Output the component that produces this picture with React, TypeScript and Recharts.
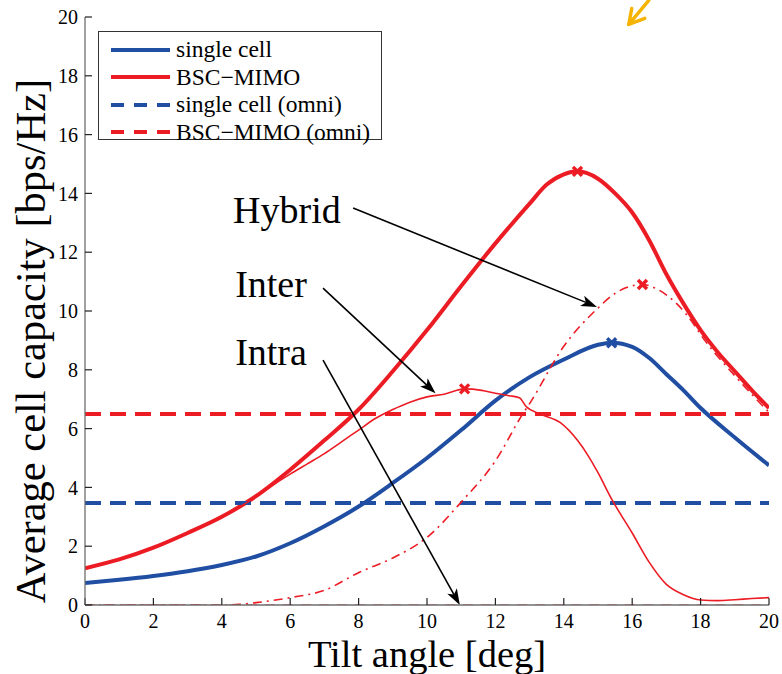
import React from 'react';
import {
  ComposedChart,
  Line,
  Scatter,
  XAxis,
  YAxis,
  Legend,
  ReferenceLine,
  ReferenceDot,
} from 'recharts';

const FONT = "'Liberation Serif', 'Times New Roman', Times, serif";
const BLUE = '#1f4ea3';
const RED = '#ec1c24';

// ---- data ----
const xTicks = [0, 2, 4, 6, 8, 10, 12, 14, 16, 18, 20];
const yTicks = [0, 2, 4, 6, 8, 10, 12, 14, 16, 18, 20];

const singleCellX = [0, 1, 2, 3, 4, 5, 6, 7, 8, 9, 10, 11, 12, 13, 14, 15, 15.4, 16, 16.5, 17, 17.5, 18, 19, 20];
const singleCellY = [0.75, 0.86, 0.99, 1.15, 1.36, 1.65, 2.1, 2.68, 3.35, 4.15, 5.0, 5.95, 6.95, 7.75, 8.35, 8.85, 8.92, 8.78, 8.4, 7.85, 7.3, 6.7, 5.7, 4.75];

const bscX = [0, 1, 2, 3, 4, 5, 6, 7, 8, 9, 10, 11, 12, 13, 13.5, 14, 14.4, 15, 15.5, 16, 16.5, 17, 17.5, 18, 18.5, 19, 19.5, 20];
const bscY = [1.25, 1.55, 1.95, 2.45, 3.0, 3.7, 4.6, 5.6, 6.65, 7.95, 9.35, 10.85, 12.3, 13.65, 14.3, 14.65, 14.75, 14.5, 14.0, 13.35, 12.4, 11.25, 10.25, 9.35, 8.6, 7.95, 7.3, 6.7];

const interX = [0, 1, 2, 3, 4, 5, 5.5, 6, 6.5, 7, 7.5, 8, 8.5, 9, 9.5, 10, 10.5, 11.1, 11.6, 12, 12.4, 12.7, 12.9, 13.3, 13.9, 14.4, 14.7, 15, 15.4, 16, 16.5, 17, 17.5, 18, 18.5, 19, 19.5, 20];
const interY = [1.25, 1.55, 1.95, 2.45, 3.0, 3.68, 4.08, 4.45, 4.8, 5.15, 5.55, 5.95, 6.35, 6.65, 6.9, 7.08, 7.17, 7.35, 7.3, 7.2, 7.12, 7.05, 6.75, 6.5, 6.2, 5.6, 5.1, 4.5, 3.6, 2.45, 1.45, 0.7, 0.35, 0.17, 0.15, 0.18, 0.22, 0.25];

const hybridX = [0, 2, 4, 4.5, 5, 6, 7, 8, 9, 10, 11, 12, 12.8, 13, 14, 15, 15.5, 16.3, 16.8, 17.3, 17.8, 18, 19, 20];
const hybridY = [0, 0, 0, 0.02, 0.08, 0.25, 0.5, 1.1, 1.6, 2.3, 3.5, 4.9, 6.5, 6.85, 8.8, 10.1, 10.6, 10.9, 10.7, 10.25, 9.55, 9.2, 7.8, 6.55];

const intraX = [0, 20];
const intraY = [0, 0];

const omniX = [0, 20];
const singleOmniY = [3.47, 3.47];
const bscOmniY = [6.5, 6.5];

const peakSingle = [{ x: 15.4, y: 8.92 }];
const peakBsc = [{ x: 14.4, y: 14.75 }];
const peakHybrid = [{ x: 16.3, y: 10.9 }];
const peakInter = [{ x: 11.1, y: 7.35 }];

const legendNames = ['single cell', 'BSC\u2212MIMO', 'single cell (omni)', 'BSC\u2212MIMO (omni)'];

const annotations = [
  { text: 'Hybrid', x: 4.33, y: 13.0 },
  { text: 'Inter', x: 4.39, y: 10.48 },
  { text: 'Intra', x: 4.39, y: 8.16 },
];
const arrows = [
  { from: { x: 7.84, y: 13.5 }, to: { x: 14.97, y: 10.14 } },
  { from: { x: 6.96, y: 10.78 }, to: { x: 10.25, y: 7.2 } },
  { from: { x: 6.96, y: 8.33 }, to: { x: 10.96, y: 0.0 } },
];

const toPts = (xs: number[], ys: number[]) => xs.map((x, i) => ({ x, y: ys[i] }));

const singleCellData = toPts(singleCellX, singleCellY);
const bscData = toPts(bscX, bscY);
const interData = toPts(interX, interY);
const hybridData = toPts(hybridX, hybridY);
const intraData = toPts(intraX, intraY);
const singleOmniData = toPts(omniX, singleOmniY);
const bscOmniData = toPts(omniX, bscOmniY);

// ---- render helpers ----
const XMark = (color: string) => (props: any) => {
  const { cx, cy } = props;
  const s = 4.5;
  return (
    <g>
      <line x1={cx - s} y1={cy - s} x2={cx + s} y2={cy + s} stroke={color} strokeWidth={3.4} />
      <line x1={cx - s} y1={cy + s} x2={cx + s} y2={cy - s} stroke={color} strokeWidth={3.4} />
    </g>
  );
};

const ArrowShape = (props: any) => {
  const { x1, y1, x2, y2 } = props;
  const ang = Math.atan2(y2 - y1, x2 - x1);
  const L = 16;
  const W = 5.5;
  const bx = x2 - L * Math.cos(ang);
  const by = y2 - L * Math.sin(ang);
  const px = -Math.sin(ang) * W;
  const py = Math.cos(ang) * W;
  const nx = x2 - (L - 4) * Math.cos(ang);
  const ny = y2 - (L - 4) * Math.sin(ang);
  return (
    <g>
      <line x1={x1} y1={y1} x2={nx} y2={ny} stroke="#000" strokeWidth={1.6} />
      <polygon
        points={`${x2},${y2} ${bx + px},${by + py} ${nx},${ny} ${bx - px},${by - py}`}
        fill="#000"
      />
    </g>
  );
};

const TextShape = (text: string) => (props: any) => (
  <text x={props.cx} y={props.cy} fontFamily={FONT} fontSize={38} fill="#000">
    {text}
  </text>
);

const YellowArrow = (props: any) => {
  const { cx, cy } = props;
  return (
    <g stroke="#f6b400" strokeWidth={3.4} strokeLinecap="round" fill="none">
      <line x1={cx} y1={cy} x2={cx + 20} y2={cy - 24} />
      <line x1={cx} y1={cy} x2={cx + 3} y2={cy - 16} />
      <line x1={cx} y1={cy} x2={cx + 16} y2={cy - 6} />
    </g>
  );
};

const renderLegend = (props: any) => {
  const payload = (props.payload || []) as any[];
  const items = legendNames
    .map((n) => payload.find((p) => p.value === n))
    .filter(Boolean) as any[];
  return (
    <div
      style={{
        border: '1px solid #333',
        background: '#fff',
        width: 284,
        height: 109,
        boxSizing: 'border-box',
        paddingTop: 4,
        fontFamily: FONT,
        fontSize: 23.5,
        color: '#000',
        lineHeight: 1,
      }}
    >
      {items.map((it, i) => (
        <div key={i} style={{ display: 'flex', alignItems: 'center', height: 27.5 }}>
          <svg width={77} height={10} style={{ flex: 'none' }}>
            <line
              x1={12}
              x2={71}
              y1={5}
              y2={5}
              stroke={it.color}
              strokeWidth={4}
              strokeDasharray={String(it.value).includes('omni') ? '13 10' : undefined}
            />
          </svg>
          <span style={{ whiteSpace: 'nowrap' }}>{it.value}</span>
        </div>
      ))}
    </div>
  );
};

const YLabel = (props: any) => {
  const vb = props.viewBox || { x: 0, y: 17, width: 85, height: 588 };
  const cx = vb.x + 45;
  const cy = vb.y + vb.height / 2 + 30;
  return (
    <text
      x={cx}
      y={cy}
      transform={`rotate(-90 ${cx} ${cy})`}
      textAnchor="middle"
      fontFamily={FONT}
      fontSize={42.5}
      fill="#000"
    >
      Average cell capacity [bps/Hz]
    </text>
  );
};

const XLabel = (props: any) => {
  const vb = props.viewBox || { x: 85, y: 605, width: 684, height: 69 };
  const cx = vb.x + vb.width / 2;
  const cy = vb.y + 62;
  return (
    <text x={cx} y={cy} textAnchor="middle" fontFamily={FONT} fontSize={38.5} fill="#000">
      Tilt angle [deg]
    </text>
  );
};

const tickStyle = { fill: '#000', fontSize: 20, fontFamily: FONT };
const axisLineStyle = { stroke: '#6e6e6e', strokeWidth: 1.3 };
const tickLineStyle = { stroke: '#222', strokeWidth: 1.2 };

export default function App() {
  return (
    <div style={{ position: 'absolute', left: 0, top: 0, width: 782, height: 674, background: '#fff' }}>
      <ComposedChart width={782} height={674} margin={{ top: 17, right: 13, bottom: 0, left: 0 }}>
        <XAxis
          xAxisId="main"
          type="number"
          dataKey="x"
          domain={[0, 20]}
          ticks={xTicks}
          interval={0}
          allowDataOverflow
          height={69}
          tickSize={-7}
          tickMargin={16}
          tick={tickStyle}
          axisLine={axisLineStyle}
          tickLine={tickLineStyle}
          label={{ content: XLabel }}
        />
        <XAxis
          xAxisId="top"
          orientation="top"
          type="number"
          dataKey="x"
          domain={[0, 20]}
          ticks={xTicks}
          interval={0}
          height={0}
          tickSize={-7}
          tickFormatter={() => ''}
          axisLine={axisLineStyle}
          tickLine={tickLineStyle}
        />
        <YAxis
          yAxisId="main"
          type="number"
          domain={[0, 20]}
          ticks={yTicks}
          interval={0}
          allowDataOverflow
          width={85}
          tickSize={-7}
          tickMargin={14}
          tick={tickStyle}
          axisLine={axisLineStyle}
          tickLine={tickLineStyle}
          label={{ content: YLabel }}
        />
        <YAxis
          yAxisId="right"
          orientation="right"
          type="number"
          domain={[0, 20]}
          ticks={yTicks}
          interval={0}
          width={0}
          tickSize={-7}
          tickFormatter={() => ''}
          axisLine={axisLineStyle}
          tickLine={tickLineStyle}
        />

        <Line xAxisId="main" yAxisId="main" data={singleCellData} dataKey="y" name="single cell" type="monotone" stroke={BLUE} strokeWidth={4} dot={false} isAnimationActive={false} />
        <Line xAxisId="main" yAxisId="main" data={bscData} dataKey="y" name={'BSC\u2212MIMO'} type="monotone" stroke={RED} strokeWidth={4} dot={false} isAnimationActive={false} />
        <Line xAxisId="main" yAxisId="main" data={singleOmniData} dataKey="y" name="single cell (omni)" type="linear" stroke={BLUE} strokeWidth={4} strokeDasharray="16 9" dot={false} isAnimationActive={false} />
        <Line xAxisId="main" yAxisId="main" data={bscOmniData} dataKey="y" name={'BSC\u2212MIMO (omni)'} type="linear" stroke={RED} strokeWidth={4} strokeDasharray="16 9" dot={false} isAnimationActive={false} />
        <Line xAxisId="main" yAxisId="main" data={interData} dataKey="y" name="Inter" legendType="none" type="monotone" stroke={RED} strokeWidth={1.6} dot={false} isAnimationActive={false} />
        <Line xAxisId="main" yAxisId="main" data={hybridData} dataKey="y" name="Hybrid" legendType="none" type="monotone" stroke={RED} strokeWidth={1.6} strokeDasharray="9 5 2 5" dot={false} isAnimationActive={false} />
        <Line xAxisId="main" yAxisId="main" data={intraData} dataKey="y" name="Intra" legendType="none" type="linear" stroke={RED} strokeOpacity={0.7} strokeWidth={1.6} strokeDasharray="10 8" dot={false} isAnimationActive={false} />

        <Scatter xAxisId="main" yAxisId="main" data={peakSingle} dataKey="y" name="peak single" legendType="none" shape={XMark(BLUE)} isAnimationActive={false} />
        <Scatter xAxisId="main" yAxisId="main" data={peakBsc} dataKey="y" name="peak bsc" legendType="none" shape={XMark(RED)} isAnimationActive={false} />
        <Scatter xAxisId="main" yAxisId="main" data={peakHybrid} dataKey="y" name="peak hybrid" legendType="none" shape={XMark(RED)} isAnimationActive={false} />
        <Scatter xAxisId="main" yAxisId="main" data={peakInter} dataKey="y" name="peak inter" legendType="none" shape={XMark(RED)} isAnimationActive={false} />

        {arrows.map((a, i) => (
          <ReferenceLine
            key={`arr${i}`}
            xAxisId="main"
            yAxisId="main"
            segment={[a.from, a.to]}
            shape={ArrowShape}
          />
        ))}
        {annotations.map((a, i) => (
          <ReferenceDot
            key={`ann${i}`}
            xAxisId="main"
            yAxisId="main"
            x={a.x}
            y={a.y}
            r={0}
            shape={TextShape(a.text)}
          />
        ))}
        <ReferenceDot xAxisId="main" yAxisId="main" x={15.9} y={19.75} r={0} shape={YellowArrow} />

        <Legend
          layout="vertical"
          align="center"
          verticalAlign="middle"
          width={284}
          wrapperStyle={{ position: 'absolute', left: 98, top: 31, width: 284, height: 109 }}
          content={renderLegend}
        />
      </ComposedChart>
    </div>
  );
}
